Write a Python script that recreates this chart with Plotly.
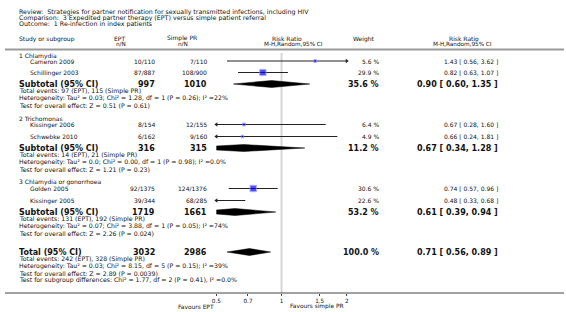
import math
import plotly.graph_objects as go

W, H = 566, 312
FONT = "DejaVu Sans"

# ---------------- data ----------------
title_lines = [
    "Review:  Strategies for partner notification for sexually transmitted infections, including HIV",
    "Comparison:  3 Expedited partner therapy (EPT) versus simple patient referral",
    "Outcome:  1 Re-infection in index patients",
]
group_names = ["1 Chlamydia", "2 Trichomonas", "3 Chlamydia or gonorrhoea"]
studies = ["Cameron 2009", "Schillinger 2003", "Kissinger 2006", "Schwebke 2010", "Golden 2005", "Kissinger 2005"]
ept_nN = ["10/110", "87/887", "8/154", "6/162", "92/1375", "39/344"]
spr_nN = ["7/110", "108/900", "12/155", "9/160", "124/1376", "68/285"]
study_weight = [5.6, 29.9, 6.4, 4.9, 30.6, 22.6]
study_rr = [1.43, 0.82, 0.67, 0.66, 0.74, 0.48]
study_lo = [0.56, 0.63, 0.28, 0.24, 0.57, 0.33]
study_hi = [3.62, 1.07, 1.60, 1.81, 0.96, 0.68]

sub_ept_n = [997, 316, 1719]
sub_spr_n = [1010, 315, 1661]
sub_weight = [35.6, 11.2, 53.2]
sub_rr = [0.90, 0.67, 0.61]
sub_lo = [0.60, 0.34, 0.39]
sub_hi = [1.35, 1.28, 0.94]
sub_notes = [
    ["Total events: 97 (EPT), 115 (Simple PR)",
     "Heterogeneity: Tau² = 0.03; Chi² = 1.28, df = 1 (P = 0.26); I² =22%",
     "Test for overall effect: Z = 0.51 (P = 0.61)"],
    ["Total events: 14 (EPT), 21 (Simple PR)",
     "Heterogeneity: Tau² = 0.0; Chi² = 0.00, df = 1 (P = 0.98); I² =0.0%",
     "Test for overall effect: Z = 1.21 (P = 0.23)"],
    ["Total events: 131 (EPT), 192 (Simple PR)",
     "Heterogeneity: Tau² = 0.07; Chi² = 3.88, df = 1 (P = 0.05); I² =74%",
     "Test for overall effect: Z = 2.26 (P = 0.024)"],
]
total_ept_n = 3032
total_spr_n = 2986
total_weight = 100.0
total_rr = 0.71
total_lo = 0.56
total_hi = 0.89
total_notes = [
    "Total events: 242 (EPT), 328 (Simple PR)",
    "Heterogeneity: Tau² = 0.03; Chi² = 8.15, df = 5 (P = 0.15); I² =39%",
    "Test for overall effect: Z = 2.89 (P = 0.0039)",
    "Test for subgroup differences: Chi² = 1.77, df = 2 (P = 0.41), I² =0.0%",
]
tick_vals = [0.5, 0.7, 1, 1.5, 2]
tick_text = ["0.5", "0.7", "1", "1.5", "2"]
axis_min, axis_max = 0.5, 2.0
left_label = "Favours EPT"
right_label = "Favours simple PR"

# ---------------- layout positions (pixels) ----------------
X_LEFT = 13
X_STUDY = 24
X_EPT = 153
X_SPR = 206
X_WEIGHT = 380
X_CI = 500
PLOT_X0, PLOT_X1 = 214, 346
AXIS_Y = 293

group_head_y = [56, 118, 182]
study_y = [61, 72.5, 124.5, 136.5, 188.5, 200.5]
sub_y = [84, 148, 212]
TOTAL_Y = 252
NOTE_DY = 7

F_TITLE = 6.3
F_TEXT = 6
F_SMALL = 6
F_NOTE = 6.2
F_BOLD = 8

annotations = []


def txt(x, y, s, size=F_TEXT, bold=False, anchor="left", color="#111"):
    annotations.append(dict(
        x=x / W, y=y, xref="paper", yref="y", text=("<b>%s</b>" % s) if bold else s,
        showarrow=False, xanchor=anchor, yanchor="middle",
        font=dict(family=FONT, size=size, color=color), borderpad=0, bgcolor="rgba(0,0,0,0)"))


# titles
for i, t in enumerate(title_lines):
    txt(X_LEFT, 11.5 + 6.4 * i, t, size=F_TITLE)

# headers
txt(X_LEFT, 38.5, "Study or subgroup", size=F_TEXT)
txt(116, 38, "EPT", size=F_TEXT, anchor="center")
txt(117, 44, "n/N", size=5.7, anchor="center")
txt(179, 38, "Simple PR", size=F_TEXT, anchor="center")
txt(180, 44, "n/N", size=5.7, anchor="center")
txt(286, 38, "Risk Ratio", size=F_TEXT, anchor="center")
txt(292, 44, "M-H,Random,95% CI", size=5.7, anchor="center")
txt(363, 38.5, "Weight", size=F_TEXT, anchor="center")
txt(465, 38, "Risk Ratio", size=F_TEXT, anchor="center")
txt(463, 44, "M-H,Random,95% CI", size=5.7, anchor="center")


def ci_text(r, l, h):
    return "%.2f [ %.2f, %.2f ]" % (r, l, h)


# group headings, studies
for g, name in enumerate(group_names):
    txt(X_LEFT, group_head_y[g], name, size=F_TEXT)
for i, s in enumerate(studies):
    y = study_y[i]
    txt(X_STUDY, y, s, size=F_TEXT)
    txt(X_EPT, y, ept_nN[i], size=F_SMALL, anchor="right")
    txt(X_SPR, y, spr_nN[i], size=F_SMALL, anchor="right")
    txt(X_WEIGHT, y, "%.1f %%" % study_weight[i], size=F_SMALL, anchor="right")
    txt(X_CI, y, ci_text(study_rr[i], study_lo[i], study_hi[i]), size=F_SMALL, anchor="right")

# subtotals
for g in range(len(group_names)):
    y = sub_y[g]
    txt(X_LEFT, y, "Subtotal (95% CI)", size=F_BOLD, bold=True)
    txt(X_EPT, y, str(sub_ept_n[g]), size=F_BOLD, bold=True, anchor="right")
    txt(X_SPR, y, str(sub_spr_n[g]), size=F_BOLD, bold=True, anchor="right")
    txt(X_WEIGHT, y, "%.1f %%" % sub_weight[g], size=F_BOLD, bold=True, anchor="right")
    txt(X_CI, y, ci_text(sub_rr[g], sub_lo[g], sub_hi[g]), size=F_BOLD, bold=True, anchor="right")
    for k, note in enumerate(sub_notes[g]):
        txt(X_LEFT, y + NOTE_DY * (k + 1), note, size=F_NOTE)

# total
txt(X_LEFT, TOTAL_Y, "Total (95% CI)", size=F_BOLD, bold=True)
txt(X_EPT, TOTAL_Y, str(total_ept_n), size=F_BOLD, bold=True, anchor="right")
txt(X_SPR, TOTAL_Y, str(total_spr_n), size=F_BOLD, bold=True, anchor="right")
txt(X_WEIGHT, TOTAL_Y, "%.1f %%" % total_weight, size=F_BOLD, bold=True, anchor="right")
txt(X_CI, TOTAL_Y, ci_text(total_rr, total_lo, total_hi), size=F_BOLD, bold=True, anchor="right")
for k, note in enumerate(total_notes):
    txt(X_LEFT, TOTAL_Y + NOTE_DY * (k + 1), note, size=F_NOTE)

# favours labels
txt(PLOT_X0 - 1, 306.5, left_label, size=5.9, anchor="right")
txt(288, 306.5, right_label, size=5.9, anchor="left")

fig = go.Figure()

# line of no effect
fig.add_trace(go.Scatter(x=[1, 1], y=[53, AXIS_Y], mode="lines",
                         line=dict(color="#d6d6d6", width=2), hoverinfo="skip", showlegend=False))

# CI lines
for i in range(len(studies)):
    fig.add_trace(go.Scatter(x=[study_lo[i], study_hi[i]], y=[study_y[i], study_y[i]], mode="lines",
                             line=dict(color="#222", width=1), hoverinfo="skip", showlegend=False))

# arrows where CI leaves the axis
arr_l_x, arr_l_y, arr_r_x, arr_r_y = [], [], [], []
for i in range(len(studies)):
    if study_lo[i] < axis_min:
        arr_l_x.append(axis_min)
        arr_l_y.append(study_y[i])
    if study_hi[i] > axis_max:
        arr_r_x.append(axis_max)
        arr_r_y.append(study_y[i])
fig.add_trace(go.Scatter(x=arr_l_x, y=arr_l_y, mode="markers", cliponaxis=False,
                         marker=dict(symbol="triangle-left", size=4, color="#222", line=dict(width=0)),
                         hoverinfo="skip", showlegend=False))
fig.add_trace(go.Scatter(x=arr_r_x, y=arr_r_y, mode="markers", cliponaxis=False,
                         marker=dict(symbol="triangle-right", size=4, color="#222", line=dict(width=0)),
                         hoverinfo="skip", showlegend=False))

# study squares
fig.add_trace(go.Scatter(x=study_rr, y=study_y, mode="markers",
                         marker=dict(symbol="square", size=[1.15 * math.sqrt(w) for w in study_weight],
                                     color="#0000ff", line=dict(color="#8c8cff", width=1)),
                         hoverinfo="skip", showlegend=False))

# diamonds
DH = 3.5


def diamond(r, l, h, y):
    fig.add_trace(go.Scatter(x=[l, r, h, r, l], y=[y, y - DH, y, y + DH, y], mode="lines",
                             fill="toself", fillcolor="#000", line=dict(color="#000", width=0.5),
                             hoverinfo="skip", showlegend=False))


for g in range(len(group_names)):
    diamond(sub_rr[g], sub_lo[g], sub_hi[g], sub_y[g])
diamond(total_rr, total_lo, total_hi, TOTAL_Y)

shapes = [
    dict(type="line", xref="paper", yref="y", x0=0, x1=1, y0=49.5, y1=49.5,
         line=dict(color="#9a9a9a", width=2)),
    dict(type="line", xref="paper", yref="y", x0=0, x1=1, y0=AXIS_Y, y1=AXIS_Y,
         line=dict(color="#444", width=1)),
]

fig.update_layout(
    width=W, height=H, margin=dict(l=0, r=0, t=0, b=0),
    paper_bgcolor="white", plot_bgcolor="white",
    annotations=annotations, shapes=shapes,
    xaxis=dict(type="log", range=[math.log10(axis_min), math.log10(axis_max)],
               domain=[PLOT_X0 / W, PLOT_X1 / W], anchor="free", position=(H - AXIS_Y) / H,
               tickvals=tick_vals, ticktext=tick_text, ticks="outside", ticklen=2, tickwidth=1,
               tickcolor="#444", tickfont=dict(family=FONT, size=5.7, color="#111"),
               showgrid=False, zeroline=False, showline=False),
    yaxis=dict(range=[H, 0], domain=[0, 1], visible=False, showgrid=False, zeroline=False),
    showlegend=False,
)

fig.write_html("out.html", config={"displayModeBar": False, "staticPlot": True},
               post_script="document.body.style.margin='0px';document.body.style.overflow='hidden';")
